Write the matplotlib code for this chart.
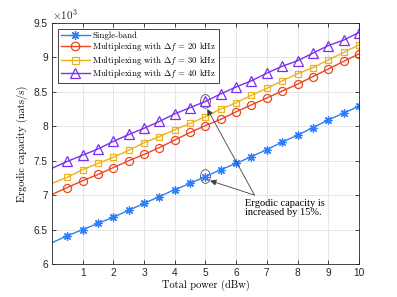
import numpy as np
import matplotlib
matplotlib.use('Agg')
import matplotlib.pyplot as plt
from matplotlib.patches import Ellipse
from matplotlib.ticker import FuncFormatter

plt.rcParams['mathtext.fontset'] = 'cm'
plt.rcParams['font.family'] = ['Liberation Sans', 'DejaVu Sans']

# Total power (dBw)
power = [0, 0.5, 1, 1.5, 2, 2.5, 3, 3.5, 4, 4.5, 5,
         5.5, 6, 6.5, 7, 7.5, 8, 8.5, 9, 9.5, 10]

# Ergodic capacity (nats/s)
single_band = [6310, 6410, 6500, 6590, 6680, 6780, 6880, 6980, 7080, 7170, 7270,
               7370, 7460, 7560, 7660, 7770, 7870, 7980, 8090, 8190, 8290]
mux_20 = [7010, 7110, 7210, 7300, 7400, 7500, 7590, 7690, 7800, 7910, 8010,
          8100, 8210, 8310, 8410, 8510, 8610, 8720, 8830, 8940, 9050]
mux_30 = [7170, 7260, 7370, 7460, 7550, 7650, 7760, 7850, 7950, 8040, 8140,
          8250, 8340, 8450, 8550, 8660, 8760, 8850, 8960, 9070, 9180]
mux_40 = [7390, 7490, 7580, 7670, 7780, 7880, 7970, 8070, 8180, 8270, 8360,
          8470, 8570, 8660, 8770, 8870, 8950, 9060, 9170, 9250, 9360]

labels = ['Single-band',
          r'Multiplexing with $\Delta f$ = 20 kHz',
          r'Multiplexing with $\Delta f$ = 30 kHz',
          r'Multiplexing with $\Delta f$ = 40 kHz']

fig = plt.figure(figsize=(3.97, 2.97), dpi=100)
ax = fig.add_axes([0.131, 0.111, 0.773, 0.812])

x = np.array(power)
scale = 1000.0
marks = list(range(1, len(power)))

ax.plot(x, np.array(single_band) / scale, color='#2E7FF8', lw=1.0, marker=(8, 2, 0),
        ms=6, mew=0.9, markevery=marks, label=labels[0])
ax.plot(x, np.array(mux_20) / scale, color='#EE4420', lw=1.0, marker='o',
        ms=5.8, mfc='none', mew=0.9, markevery=marks, label=labels[1])
ax.plot(x, np.array(mux_30) / scale, color='#EDB120', lw=1.0, marker='s',
        ms=4.8, mfc='none', mew=0.9, markevery=marks, label=labels[2])
ax.plot(x, np.array(mux_40) / scale, color='#7B2FF2', lw=1.0, marker='^',
        ms=6.5, mfc='none', mew=0.9, markevery=marks, label=labels[3])

ax.set_xlim(0, 10)
ax.set_ylim(6, 9.5)
ax.set_xticks(range(1, 11))
ax.set_yticks(np.arange(6, 9.51, 0.5))
ax.yaxis.set_major_formatter(FuncFormatter(lambda v, p: '%g' % v))
ax.tick_params(direction='in', top=True, right=True, labelsize=7.3,
               length=3, width=0.6, colors='#262626', pad=3)
ax.grid(True, color='#E3E3E3', lw=0.6)
ax.set_axisbelow(True)
for s in ax.spines.values():
    s.set_color('#262626')
    s.set_linewidth(0.6)

ax.set_xlabel('Total power (dBw)', family='cmr10', fontsize=7.5, labelpad=1)
ax.set_ylabel('Ergodic capacity (nats/s)', family='cmr10', fontsize=7.5, labelpad=4)
ax.text(0.0, 1.005, r'$\mathsf{\times 10^{3}}$', transform=ax.transAxes,
        fontsize=8, color='#262626', va='bottom', ha='left')

leg = ax.legend(loc='upper left', prop={'family': 'cmr10', 'size': 6.3},
                frameon=True, fancybox=False, framealpha=1, edgecolor='#262626',
                borderpad=0.3, labelspacing=0.05, handlelength=3.3,
                handletextpad=0.3, borderaxespad=0.7, markerscale=1.05)
leg.get_frame().set_linewidth(0.6)

# annotation ellipses and arrows
for yc in [8.36, 7.27]:
    ax.add_patch(Ellipse((5.0, yc), 0.32, 0.2, fill=False, ec='#505050', lw=0.6))
ax.annotate('', xy=(5.06, 8.25), xytext=(6.6, 7.0),
            arrowprops=dict(arrowstyle='-|>', color='#404040', lw=0.6,
                            mutation_scale=9, shrinkA=0, shrinkB=0))
ax.annotate('', xy=(5.15, 7.21), xytext=(6.6, 7.0),
            arrowprops=dict(arrowstyle='-|>', color='#404040', lw=0.6,
                            mutation_scale=9, shrinkA=0, shrinkB=0))
ax.text(6.28, 6.95, 'Ergodic capacity is\nincreased by 15%.', family='Liberation Serif',
        fontsize=7.5, va='top', ha='left', linespacing=1.1)

fig.savefig('out.png', dpi=100)
